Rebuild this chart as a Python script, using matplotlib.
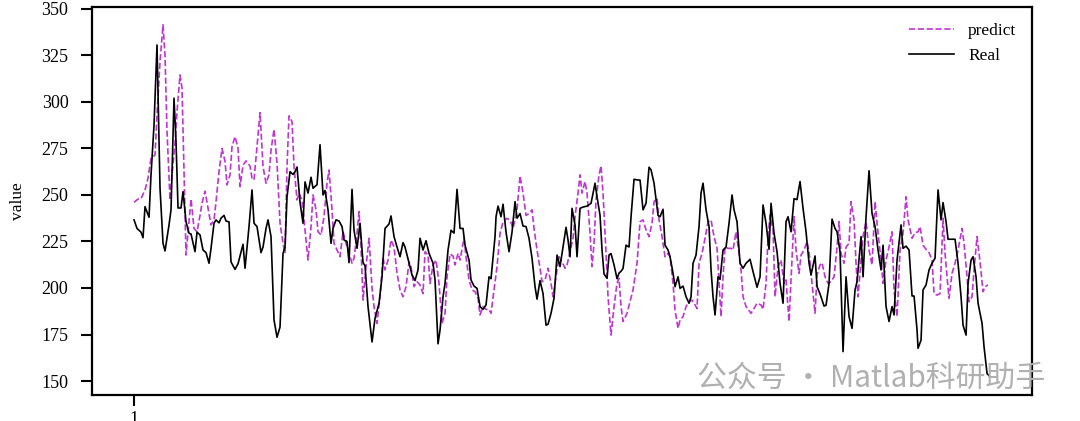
import matplotlib.pyplot as plt

# (time step, value)
real_pts = [
    (1, 236.6), (4, 232), (8, 230), (10, 227), (12, 243.7), (16, 238), (18, 260.8), (21, 287.6),
    (24, 330.6), (27, 253.6), (30, 224), (32, 219.9), (36, 233.9), (38, 242), (41, 302), (43, 278.7),
    (45, 243), (48, 243), (50, 251.8), (53, 235.6), (56, 229.4), (58, 229), (62, 219.5), (64, 230),
    (67, 228.5), (70, 220.4), (73, 219), (76, 213.3), (78, 221.3), (81, 234.8), (83, 236.6), (86, 235),
    (88, 237.5), (91, 239), (93, 236), (96, 235.5), (98, 214), (102, 210), (105, 213), (110, 223.5),
    (112, 210.6), (116, 233), (119, 252.7), (121, 234.8), (124, 233), (128, 219), (130, 222), (133, 232),
    (135, 236.6), (138, 227.6), (141, 182.8), (144, 173.5), (147, 179), (150, 218.6), (152, 222), (154, 249),
    (157, 262.5), (160, 261), (162, 262.5), (164, 265), (167, 246), (170, 234.8), (172, 257), (175, 251),
    (178, 259.5), (180, 253.6), (184, 255.5), (187, 277), (190, 250), (192, 252.4), (195, 242), (198, 224),
    (200, 232), (203, 236.6), (206, 236), (209, 233), (211, 225.8), (214, 225), (216, 213.6), (219, 253),
    (221, 231), (224, 221.3), (227, 234.8), (230, 213.6), (232, 212), (235, 190), (239, 171), (242, 183.7),
    (246, 191.8), (249, 206), (252, 232), (256, 234.4), (258, 238.7), (261, 227.6), (264, 222), (267, 216.8),
    (270, 224.4), (272, 222), (276, 213.3), (279, 207), (282, 204), (285, 209.7), (287, 226.7), (290, 220.4),
    (293, 225.4), (296, 218.6), (300, 213.3), (302, 204.3), (305, 170), (307, 177.4), (310, 195.3), (312, 202.5),
    (315, 220.4), (318, 231), (321, 229.5), (324, 253), (327, 232), (330, 232), (332, 223), (336, 215),
    (338, 204.3), (341, 201), (344, 199.8), (347, 190), (350, 188.5), (353, 190.9), (356, 206), (358, 205),
    (362, 227.6), (363, 238.3), (365, 244), (368, 238.3), (370, 245), (373, 230), (376, 219.5), (379, 230),
    (382, 246.4), (384, 237.5), (387, 240), (390, 233.3), (393, 233), (396, 226.7), (399, 216), (402, 200.7),
    (404, 194), (407, 204), (410, 197), (413, 180), (415, 180.5), (418, 186.4), (421, 194.5), (424, 217.7),
    (427, 211.5), (430, 222), (433, 232.6), (435, 225.8), (437, 216.8), (439, 242.8), (442, 233.9), (444, 216.8),
    (447, 242.8), (450, 243.5), (454, 244), (458, 245.5), (462, 256.3), (464, 249), (467, 239), (469, 220.4),
    (471, 207.5), (474, 205.2), (476, 217.7), (478, 218.5), (481, 212.4), (484, 205), (486, 208), (488, 209),
    (490, 210.5), (493, 223), (496, 222), (498, 238.3), (501, 258.4), (505, 258), (507, 258), (510, 242),
    (513, 245.5), (516, 264.9), (518, 263.5), (521, 256.3), (525, 239), (527, 238.3), (530, 242.3), (532, 223),
    (535, 220.4), (537, 216.8), (540, 207.9), (542, 200.7), (545, 206), (547, 199.8), (550, 201), (553, 195.3),
    (556, 191.8), (558, 195.3), (560, 213.3), (563, 217.7), (566, 233), (568, 251), (570, 256.3), (573, 242),
    (576, 233), (578, 209.7), (580, 195.3), (582, 185.5), (585, 206), (587, 204.6), (590, 220.4), (593, 222),
    (596, 234.8), (599, 250), (601, 242), (604, 235.6), (607, 213.3), (610, 210.6), (613, 213.3), (617, 215.4),
    (620, 208.8), (624, 200.4), (627, 206), (630, 244.6), (633, 234.8), (636, 220.8), (638, 245.5), (641, 229.4),
    (644, 219.5), (647, 202.5), (650, 191.8), (653, 235.6), (655, 238.3), (658, 230.2), (661, 248), (664, 247.5),
    (667, 257.2), (670, 242.8), (673, 230.2), (676, 213.3), (678, 207), (682, 217.2), (684, 200.7), (687, 196.8),
    (691, 190.3), (693, 190.7), (696, 202.5), (699, 237), (702, 232), (704, 230.2), (707, 219.5), (710, 165.8),
    (713, 206), (716, 184.6), (719, 178.3), (722, 199), (724, 203.4), (728, 227.6), (730, 206), (733, 238.3),
    (736, 263), (739, 240), (742, 233), (745, 220.4), (748, 209.7), (750, 223), (753, 190), (756, 182),
    (759, 190), (761, 185.5), (764, 215), (768, 233.9), (770, 221.3), (773, 222.5), (776, 220.4), (779, 195.7),
    (781, 195.7), (784, 177.4), (785, 167.6), (788, 172), (790, 199), (793, 201.6), (796, 209.7), (799, 213.3),
    (802, 216), (805, 252.7), (808, 236.6), (810, 245.9), (813, 235.6), (815, 226.2), (819, 226.2), (822, 226.2),
    (825, 213.3), (828, 195.3), (830, 180), (833, 174.7), (835, 202.5), (838, 215), (840, 216.8), (843, 206),
    (845, 191.8), (849, 181), (851, 168.4), (854, 154), (857, 152.3),
]

predict_pts = [
    (1, 246), (5, 247.8), (8, 248), (12, 252.7), (15, 259), (18, 269.7), (22, 271.5), (24, 293),
    (27, 321.7), (30, 341.4), (32, 325), (34, 284), (37, 247.3), (39, 260.8), (42, 277.8), (44, 294.8),
    (47, 314.5), (49, 307.4), (51, 262.5), (53, 217.7), (56, 235.6), (58, 247.8), (61, 232), (64, 230.2),
    (67, 239), (69, 245.5), (72, 252), (75, 242.8), (78, 233.9), (81, 236.6), (83, 246.4), (86, 262.5),
    (89, 275), (92, 268), (94, 255.4), (97, 260.8), (99, 276), (102, 281.3), (105, 275), (107, 254.5),
    (110, 266), (113, 268.3), (117, 265.5), (119, 259), (121, 258), (124, 276), (127, 294.2), (130, 265.2),
    (133, 256.3), (136, 260.8), (138, 274), (141, 285.3), (144, 267), (147, 234.8), (150, 224), (152, 218.6),
    (154, 265.2), (156, 292.5), (159, 289.4), (161, 265.2), (164, 247.3), (166, 250.9), (169, 247.3), (172, 231.2),
    (175, 215), (178, 233), (180, 250), (183, 242), (185, 230.2), (188, 228.5), (191, 238.3), (194, 256.3),
    (196, 263.4), (199, 242), (201, 224), (204, 220.4), (207, 216.8), (210, 230.2), (213, 224), (216, 218.6),
    (219, 213.3), (221, 216), (224, 229.4), (226, 241), (228, 222), (230, 193.5), (233, 211.5), (236, 226.7),
    (239, 200), (241, 190), (244, 181), (247, 195.3), (250, 216.8), (252, 209.7), (255, 215), (258, 225.8),
    (261, 222), (264, 208), (267, 199), (270, 195.3), (273, 200.7), (276, 214), (278, 211.5), (281, 200.7),
    (284, 203.4), (287, 201.6), (290, 197), (292, 219.5), (295, 217.7), (297, 202.5), (300, 212.4), (303, 215),
    (306, 202.5), (309, 181), (312, 186.4), (314, 206), (317, 218.3), (320, 217.2), (322, 212.4), (325, 218.6),
    (327, 215), (331, 226.7), (333, 216.8), (336, 204.3), (339, 199), (342, 198), (345, 194.5), (347, 185.5),
    (350, 190), (353, 188.5), (356, 188.5), (358, 186.4), (361, 199), (364, 211.5), (367, 229.4), (370, 235.6),
    (374, 237.4), (377, 236.6), (380, 232), (384, 242), (387, 260.2), (390, 251), (393, 239), (396, 240),
    (399, 242), (401, 232), (404, 220.4), (407, 210.6), (409, 203.4), (412, 204.3), (415, 210.6), (418, 202.5),
    (420, 195.3), (423, 206), (426, 216.8), (429, 214), (432, 210.6), (434, 212.4), (437, 219.5), (440, 226.7),
    (442, 238.3), (445, 251), (447, 260.8), (449, 251), (452, 257.2), (454, 251), (457, 229.4), (459, 211.5),
    (461, 224), (463, 247.3), (466, 260.8), (468, 265.6), (470, 251), (473, 218.6), (475, 195.3), (478, 174.7),
    (481, 190), (484, 202.5), (486, 205.2), (488, 190), (490, 182), (494, 186.4), (497, 192.6), (500, 199),
    (504, 213.3), (507, 235.6), (510, 236.6), (513, 231.2), (516, 227.6), (519, 234.8), (521, 246.4), (524, 248.2),
    (526, 236.6), (529, 227.6), (532, 216.8), (535, 218.6), (537, 216.8), (540, 202.5), (542, 188.2), (545, 178.3),
    (547, 182.8), (550, 184.6), (553, 190), (556, 192.6), (559, 193.5), (562, 190.9), (564, 189), (566, 213.3),
    (569, 218.6), (572, 226.7), (575, 235.6), (578, 236.6), (581, 227.6), (584, 221.3), (586, 202.5), (588, 184.6),
    (590, 206), (592, 222), (595, 221.3), (598, 221.3), (600, 220.4), (603, 230.2), (606, 218.6), (608, 209.7),
    (610, 195.3), (613, 190), (618, 186.4), (621, 189), (624, 191.8), (628, 190.9), (630, 188.5), (633, 202.5),
    (635, 227.6), (637, 239), (640, 231.2), (642, 195.3), (645, 211.5), (648, 215), (651, 202.5), (653, 204.3),
    (656, 182), (658, 204.3), (661, 238.3), (663, 220.4), (666, 207.9), (668, 217.7), (671, 220.4), (674, 224.9),
    (676, 219.5), (679, 202.5), (682, 186.4), (684, 207), (687, 212.4), (689, 213.6), (692, 206), (695, 202.5),
    (698, 203.4), (701, 206), (704, 222), (706, 235.6), (708, 218.6), (711, 213.3), (713, 222), (716, 224),
    (718, 246.4), (721, 236.6), (723, 213.3), (725, 195.3), (728, 215), (730, 228), (733, 235.6), (736, 220.4),
    (739, 212.4), (742, 246.4), (745, 229.4), (748, 215), (750, 202.5), (753, 215), (756, 222), (759, 230.2),
    (761, 199), (764, 184.6), (767, 220.4), (770, 229.4), (773, 249), (775, 236.6), (779, 226.7), (782, 229.7),
    (785, 230.2), (787, 233), (790, 223), (793, 220.8), (796, 219), (799, 215), (801, 197), (804, 196.2),
    (807, 197), (810, 237.5), (812, 218.6), (814, 206), (816, 194.5), (819, 207.9), (822, 213.3), (825, 220.4),
    (829, 232), (831, 224), (834, 206), (836, 192.6), (839, 195.3), (841, 209.7), (844, 227.6), (847, 214),
    (850, 198), (852, 200.7), (855, 201.6),
]

t_real = [p[0] for p in real_pts]
real = [p[1] for p in real_pts]
t_pred = [p[0] for p in predict_pts]
predict = [p[1] for p in predict_pts]

plt.rcParams['font.family'] = ['Liberation Serif', 'DejaVu Serif']

fig = plt.figure(figsize=(10.8, 4.21), dpi=100)
ax = fig.add_axes([0.0852, 0.0618, 0.8704, 0.9216])

ax.plot(t_pred, predict, '--', color='#c034d4', lw=1.2, label='predict')
ax.plot(t_real, real, '-', color='black', lw=1.2, label='Real')

ax.set_xlim(-41, 899)
ax.set_ylim(142.5, 351)
ax.set_yticks([150, 175, 200, 225, 250, 275, 300, 325, 350])
ax.set_xticks([1])
ax.set_xticklabels(['1'])
ax.set_ylabel('value', fontsize=12.5, labelpad=11)
ax.tick_params(axis='both', direction='out', length=8, width=1.5, labelsize=13)
ax.tick_params(axis='y', pad=9)
for s in ax.spines.values():
    s.set_linewidth(1.6)

ax.legend(loc='upper right', frameon=False, fontsize=12.5, handlelength=2.6,
          labelspacing=0.5, bbox_to_anchor=(1.0, 1.0))

# watermark from the source image
fig.text(0.645, 0.102, '公众号 · Matlab科研助手', fontsize=21.5, color='#b0b0b0',
         family=['Noto Sans CJK SC', 'DejaVu Sans'], va='center')

fig.savefig('out.png', dpi=100)
plt.close(fig)
